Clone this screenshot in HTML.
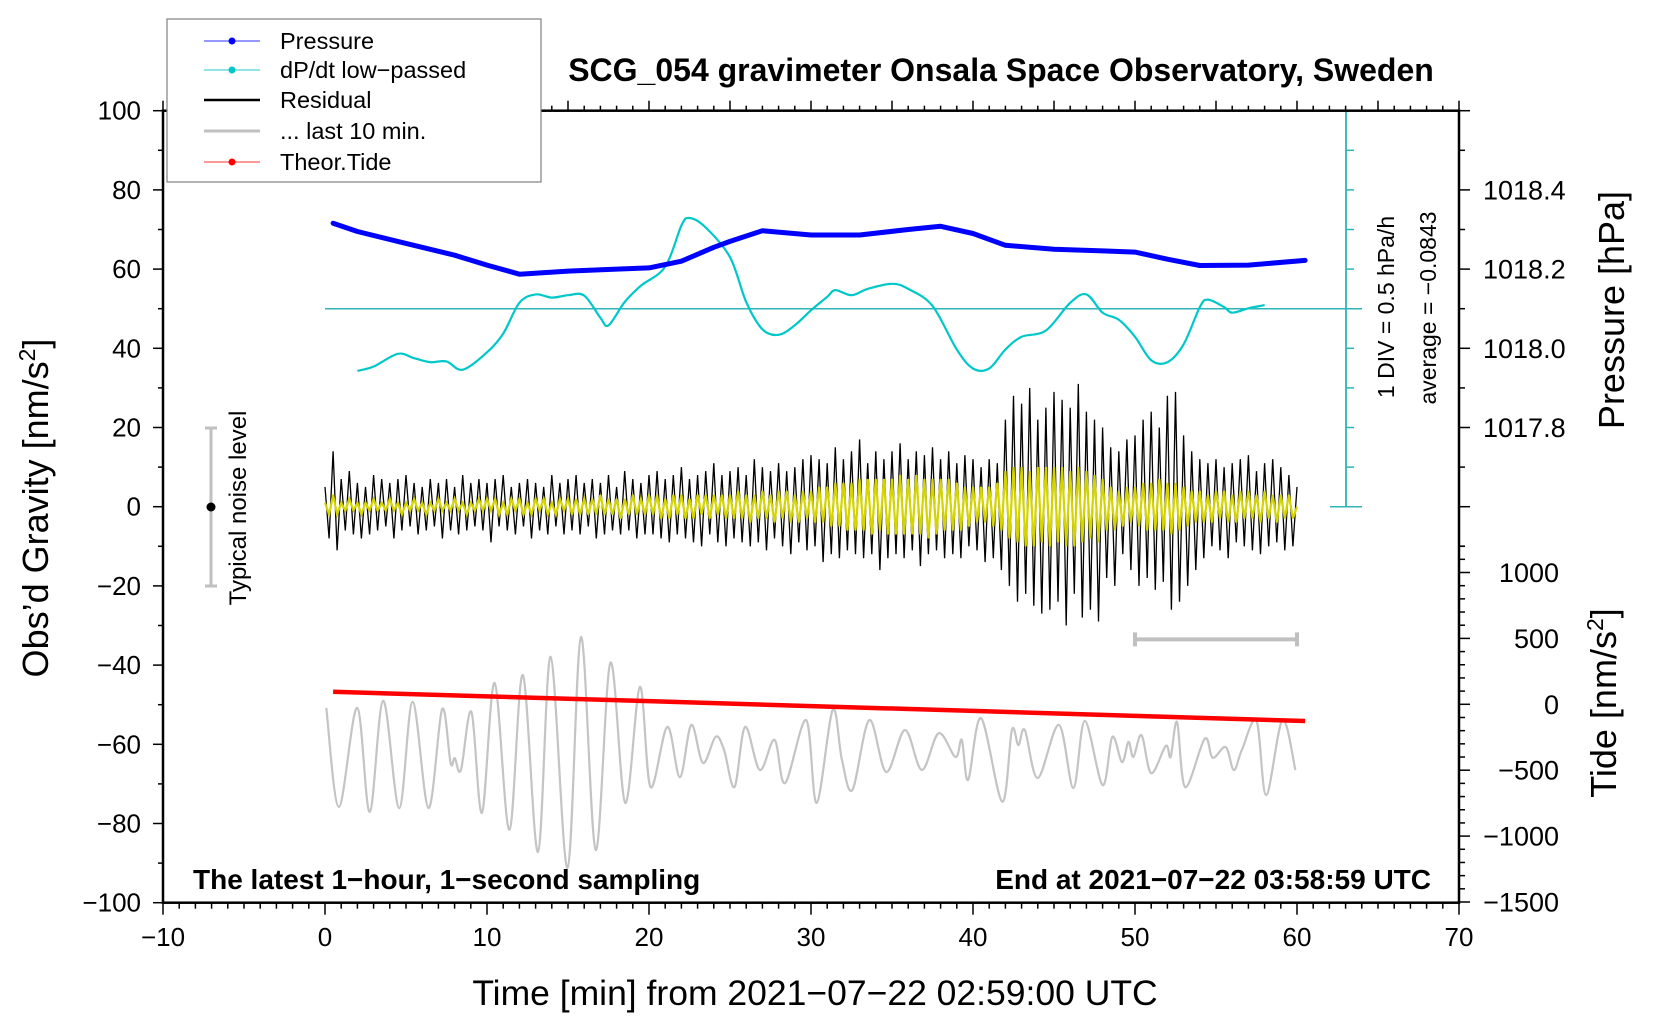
<!DOCTYPE html>
<html><head><meta charset="utf-8"><style>
html,body{margin:0;padding:0;background:#fff;}
svg{display:block;font-family:"Liberation Sans",Arial,sans-serif;}
</style></head><body>
<svg id="chart" width="1660" height="1020" viewBox="0 0 1660 1020" xmlns="http://www.w3.org/2000/svg">
<rect width="1660" height="1020" fill="#fff"/>
<g id="ticks" stroke="#000" stroke-width="1.5"></g>
<g id="labels" font-size="26" fill="#000"></g>
<g id="series"></g>
<rect x="163" y="110.7" width="1296" height="792" fill="none" stroke="#000" stroke-width="2.5"/>
<text x="1001" y="81" font-size="32" font-weight="bold" text-anchor="middle">SCG_054 gravimeter Onsala Space Observatory, Sweden</text>
<text x="815" y="1005" font-size="35.5" text-anchor="middle">Time [min] from 2021−07−22 02:59:00 UTC</text>
<text transform="translate(48,508) rotate(-90)" font-size="36" text-anchor="middle">Obs’d Gravity [nm/s<tspan font-size="23" dy="-13">2</tspan><tspan dy="13">]</tspan></text>
<text transform="translate(1624,310) rotate(-90)" font-size="36" text-anchor="middle">Pressure [hPa]</text>
<text transform="translate(1616,703) rotate(-90)" font-size="36" text-anchor="middle">Tide [nm/s<tspan font-size="23" dy="-13">2</tspan><tspan dy="13">]</tspan></text>
<text transform="translate(1394,307) rotate(-90)" font-size="23" text-anchor="middle">1 DIV = 0.5 hPa/h</text>
<text transform="translate(1436,308) rotate(-90)" font-size="23" text-anchor="middle">average = −0.0843</text>
<text x="193" y="889" font-size="28" font-weight="bold">The latest 1−hour, 1−second sampling</text>
<text x="1431" y="889" font-size="28" font-weight="bold" text-anchor="end">End at 2021−07−22 03:58:59 UTC</text>
<g>
<line x1="211" y1="428" x2="211" y2="586" stroke="#c0c0c0" stroke-width="3"/>
<line x1="205" y1="428" x2="217" y2="428" stroke="#c0c0c0" stroke-width="3"/>
<line x1="205" y1="586" x2="217" y2="586" stroke="#c0c0c0" stroke-width="3"/>
<circle cx="211" cy="507" r="4.5" fill="#000"/>
<text transform="translate(246,508) rotate(-90)" font-size="24" text-anchor="middle">Typical noise level</text>
</g>
<g>
<rect x="167" y="19" width="374" height="163" fill="#fff" stroke="#808080" stroke-width="1.2"/>
<g><line x1="204" y1="41" x2="260" y2="41" stroke="#3030ff" stroke-width="1"/><circle cx="232" cy="41" r="3.5" fill="#0000ff"/><text x="280" y="49" font-size="23.5">Pressure</text></g>
<g><line x1="204" y1="70" x2="260" y2="70" stroke="#20c8c8" stroke-width="1"/><circle cx="232" cy="70" r="3.5" fill="#00c8c8"/><text x="280" y="78" font-size="23.5">dP/dt low−passed</text></g>
<g><line x1="204" y1="100" x2="260" y2="100" stroke="#000" stroke-width="2.5"/><text x="280" y="108" font-size="23.5">Residual</text></g>
<g><line x1="204" y1="131" x2="260" y2="131" stroke="#c0c0c0" stroke-width="3"/><text x="280" y="139" font-size="23.5">... last 10 min.</text></g>
<g><line x1="204" y1="162" x2="260" y2="162" stroke="#ff3030" stroke-width="1"/><circle cx="232" cy="162" r="3.5" fill="#ff0000"/><text x="280" y="170" font-size="23.5">Theor.Tide</text></g>
</g>
</svg>
<script>
const pressureTimes=[0.5,2,5,8,10,12,15,18,20,22,24,25,27,30,33,36,38,40,42,45,48,50,52,54,57,60.5];
const pressureValues=[1018.316,1018.295,1018.265,1018.235,1018.21,1018.187,1018.195,1018.2,1018.203,1018.22,1018.255,1018.27,1018.297,1018.286,1018.286,1018.3,1018.308,1018.29,1018.26,1018.25,1018.246,1018.243,1018.225,1018.209,1018.21,1018.222];
const dpdtTimes=[2,3,4.5,5.5,6.5,7.5,8.5,10,11,12,13,14,15,16,17,17.5,18.5,19.5,21,22,22.5,23.5,25,26,27,28,29,30,31,31.5,32.5,33.5,35,36,37.5,39,40,41,42,43,44.5,46,47,48,49,50,51,52,53,54,54.5,55.5,56,57,58];
const dpdtValues=[-0.785,-0.73,-0.57,-0.625,-0.675,-0.665,-0.77,-0.55,-0.315,0.075,0.18,0.14,0.17,0.165,-0.115,-0.21,0.085,0.29,0.53,1.05,1.145,1.025,0.65,0.085,-0.26,-0.33,-0.21,-0.02,0.15,0.235,0.17,0.25,0.315,0.25,0.035,-0.515,-0.755,-0.755,-0.515,-0.355,-0.275,0.075,0.18,-0.05,-0.14,-0.355,-0.65,-0.675,-0.45,0.02,0.115,0.02,-0.05,0.005,0.045];
const residualStep=0.25;
const residualValues=[
5,-8,14,-11,7,-6,9,-7,6,-8,5,-7,8,-6,7,-5,6,-8,7,-6,
8,-5,6,-7,5,-6,7,-5,6,-8,7,-6,5,-7,8,-6,6,-5,7,-6,
6,-9,7,-5,8,-6,5,-7,6,-5,7,-8,6,-6,5,-7,8,-5,6,-7,
7,-6,8,-7,6,-5,7,-8,6,-7,8,-6,5,-7,9,-6,7,-8,6,-7,
8,-7,9,-8,7,-9,8,-7,10,-8,7,-9,8,-10,9,-7,11,-9,8,-10,
9,-8,10,-9,8,-10,12,-9,10,-11,9,-8,11,-10,9,-12,10,-9,12,-11,
13,-10,12,-14,11,-12,15,-13,12,-11,14,-12,17,-13,11,-12,14,-16,12,-13,
14,-12,16,-13,12,-11,14,-15,13,-12,15,-11,12,-13,14,-12,11,-13,13,-10,
12,-11,10,-14,12,-13,11,-16,22,-20,28,-24,26,-22,30,-25,22,-27,25,-26,
29,-24,27,-30,25,-22,31,-28,24,-26,22,-29,20,-18,15,-20,14,-12,17,-16,
18,-20,22,-18,24,-21,20,-19,28,-26,29,-24,18,-20,14,-16,12,-13,11,-10,
12,-11,10,-13,11,-9,12,-10,13,-11,9,-12,11,-10,12,-9,10,-11,8,-10,5];
const filteredValues=[
1,-2,3,-2,1,-1,2,-1,1,-2,1,-1,2,-1,1,-1,2,-1,1,-2,
1,-1,2,-1,1,-2,1,-1,2,-1,1,-1,2,-1,1,-2,1,-1,2,-1,
2,-1,2,-2,1,-2,2,-1,2,-2,1,-2,2,-1,2,-2,1,-2,2,-1,
2,-2,2,-2,2,-2,2,-2,3,-2,2,-2,2,-3,2,-2,3,-2,2,-2,
3,-2,3,-3,2,-3,3,-2,3,-3,2,-3,3,-2,3,-3,3,-2,3,-3,
3,-3,4,-3,3,-4,3,-3,4,-3,3,-4,4,-3,4,-4,3,-4,4,-3,
4,-4,5,-4,5,-5,6,-5,6,-6,6,-6,7,-6,7,-7,7,-6,7,-7,
7,-7,8,-7,7,-7,8,-7,7,-8,7,-7,7,-6,7,-6,6,-6,5,-5,
5,-4,5,-4,5,-5,6,-6,9,-8,10,-9,10,-10,9,-10,10,-9,10,-10,
10,-9,10,-10,9,-10,10,-9,9,-8,8,-9,7,-6,5,-6,4,-5,5,-4,
5,-5,6,-6,6,-6,7,-6,6,-7,6,-6,5,-5,4,-4,4,-4,3,-4,
4,-3,4,-4,3,-4,4,-3,4,-3,3,-4,4,-3,3,-4,3,-3,3,-3,0];
const lastTenTimes=[0.08,0.86,1.98,2.76,3.59,4.58,5.41,6.39,7.23,7.75,8.01,8.39,9.04,9.69,10.47,11.38,12.21,13.15,13.93,14.97,15.8,16.71,17.62,18.53,19.44,20.09,21.13,21.91,22.61,23.33,24.11,24.63,25.28,25.93,26.84,27.75,28.4,29.7,30.35,31.34,31.91,32.56,33.6,34.64,35.8,36.84,37.88,38.92,39.31,39.7,40.5,41.8,42.4,42.8,43.2,44,45.3,46.2,46.9,48,48.6,49.2,49.6,49.9,50.4,51,51.9,52.2,52.6,53.1,54.3,54.8,55.6,56.1,56.6,57.5,58.1,59.1,59.9];
const lastTenValues=[-50.8,-75.8,-50.8,-77.1,-49,-76.1,-49.3,-76.1,-51.1,-64.7,-63.5,-66.5,-51.8,-77.3,-44.5,-81.6,-42.5,-87.2,-37.9,-91.2,-32.9,-86.7,-39.4,-74.8,-45.5,-70.8,-55.6,-68.3,-55.1,-64.7,-58.1,-61.4,-70.8,-55.6,-66.5,-58.9,-69.8,-53.9,-74.8,-51.3,-63.9,-71.5,-53.9,-67,-56.4,-66.5,-57.2,-63.2,-58.9,-69,-53.4,-74.5,-56.4,-60.2,-56.4,-68.5,-55.1,-71,-54.1,-70.3,-58.1,-64.5,-59.4,-63.2,-57.7,-67.3,-60.4,-63.2,-54.4,-70.8,-58.6,-63.4,-60.7,-66.5,-61.4,-54.1,-72.8,-53.9,-66.5];
const tideTimes=[0.5,10,20,30,40,50,60.5];
const tideValues=[95,60,24,-14,-50,-88,-127];
const xTicks=[-10,0,10,20,30,40,50,60,70];
const yTicks=[100,80,60,40,20,0,-20,-40,-60,-80,-100];
const pressureTicks=["1018.4","1018.2","1018.0","1017.8"];
const tideTicks=["1000","500","0","−500","−1000","−1500"];

const NS="http://www.w3.org/2000/svg";
const X=t=>325+t*16.2;
const Y=g=>506.7-g*3.96;
const YP=p=>Y(80+(p-1018.4)*100);
const YT=v=>704.3-v*0.1318;
const YD=v=>Y(50+v*20);
function mk(parent,tag,attrs){const e=document.createElementNS(NS,tag);for(const k in attrs)e.setAttribute(k,attrs[k]);parent.appendChild(e);return e;}
function smooth(pts){let d="M"+pts[0][0].toFixed(1)+","+pts[0][1].toFixed(1);for(let i=0;i<pts.length-1;i++){const p0=pts[Math.max(0,i-1)],p1=pts[i],p2=pts[i+1],p3=pts[Math.min(pts.length-1,i+2)];const c1=[p1[0]+(p2[0]-p0[0])/6,p1[1]+(p2[1]-p0[1])/6],c2=[p2[0]-(p3[0]-p1[0])/6,p2[1]-(p3[1]-p1[1])/6];d+="C"+c1[0].toFixed(1)+","+c1[1].toFixed(1)+" "+c2[0].toFixed(1)+","+c2[1].toFixed(1)+" "+p2[0].toFixed(1)+","+p2[1].toFixed(1);}return d;}
function poly(pts){return pts.map((p,i)=>(i?"L":"M")+p[0].toFixed(1)+","+p[1].toFixed(1)).join("");}

const tk=document.getElementById("ticks"),lb=document.getElementById("labels"),sr=document.getElementById("series");
for(let t=-10;t<=70;t++){const maj=t%10===0;
 const l=mk(tk,"line",{x1:X(t),x2:X(t),y1:902.7,y2:902.7+(maj?12:6)});
 
 
 const u=mk(tk,"line",{x1:X(t),x2:X(t),y1:110.7,y2:110.7-(t%5===0?10:5)});
 
 }
xTicks.forEach(t=>{const e=mk(lb,"text",{x:X(t),y:946,"text-anchor":"middle"});e.textContent=String(t).replace("-","−");
 
 });
for(let g=-100;g<=100;g+=10){const l=mk(tk,"line",{x1:163-(g%20===0?10:5),x2:163,y1:Y(g),y2:Y(g)});
 
 }
yTicks.forEach(g=>{const e=mk(lb,"text",{x:141,y:Y(g)+9,"text-anchor":"end"});e.textContent=String(g).replace("-","−");
 
 });
for(let k=0;k<=11;k++){const p=1018.6-k*0.1;const l=mk(tk,"line",{x1:1459,x2:1459+(k%2===0?11:6),y1:YP(p),y2:YP(p)});
 
 }
pressureTicks.forEach(s=>{const e=mk(lb,"text",{x:1483,y:YP(parseFloat(s))+9.5,"font-size":"27"});e.textContent=s;
 
 });
for(let v=1200;v>=-1500;v-=100){const l=mk(tk,"line",{x1:1459,x2:1459+(v%500===0?11:6),y1:YT(v),y2:YT(v)});
 
 }
tideTicks.forEach(s=>{const e=mk(lb,"text",{x:1559,y:YT(parseFloat(s.replace("−","-")))+9.5,"font-size":"27","text-anchor":"end"});e.textContent=s;
 
 });
const cy="#2fb5b5";
const ax=mk(sr,"line",{x1:1346,x2:1346,y1:Y(100),y2:Y(0),stroke:cy,"stroke-width":1.8});


for(let g=0;g<=100;g+=10){const end=(g===0||g===100||g===50);
 const l=mk(sr,"line",{x1:end?1330:1346,x2:end?1362:1354,y1:Y(g),y2:Y(g),stroke:cy,"stroke-width":1.5});
 
 }
const zl=mk(sr,"line",{x1:X(0),x2:1362,y1:YD(0),y2:YD(0),stroke:cy,"stroke-width":1.5});


const sb=mk(sr,"g",{stroke:"#c0c0c0","stroke-width":4});


mk(sb,"line",{x1:X(50),x2:X(60),y1:Y(-33.5),y2:Y(-33.5)});
mk(sb,"line",{x1:X(50),x2:X(50),y1:Y(-33.5)-7,y2:Y(-33.5)+7});
mk(sb,"line",{x1:X(60),x2:X(60),y1:Y(-33.5)-7,y2:Y(-33.5)+7});
const gp=mk(sr,"path",{d:smooth(lastTenTimes.map((t,i)=>[X(t),Y(lastTenValues[i])])),fill:"none",stroke:"#c4c4c4","stroke-width":2.2});


const tp=mk(sr,"path",{d:poly(tideTimes.map((t,i)=>[X(t),YT(tideValues[i])])),fill:"none",stroke:"#ff0000","stroke-width":4.5});


const rp=mk(sr,"path",{d:poly(residualValues.map((v,i)=>[X(i*residualStep),Y(v)])),fill:"none",stroke:"#000","stroke-width":1.3});


const fp=mk(sr,"path",{d:poly(filteredValues.map((v,i)=>[X(i*residualStep),Y(v)])),fill:"none",stroke:"#d4d400","stroke-width":2.2});


const dp=mk(sr,"path",{d:smooth(dpdtTimes.map((t,i)=>[X(t),YD(dpdtValues[i])])),fill:"none",stroke:"#00c8c8","stroke-width":2.2});


const pp=mk(sr,"path",{d:poly(pressureTimes.map((t,i)=>[X(t),YP(pressureValues[i])])),fill:"none",stroke:"#0000ff","stroke-width":5,"stroke-linejoin":"round","stroke-linecap":"round"});


</script>
</body></html>
